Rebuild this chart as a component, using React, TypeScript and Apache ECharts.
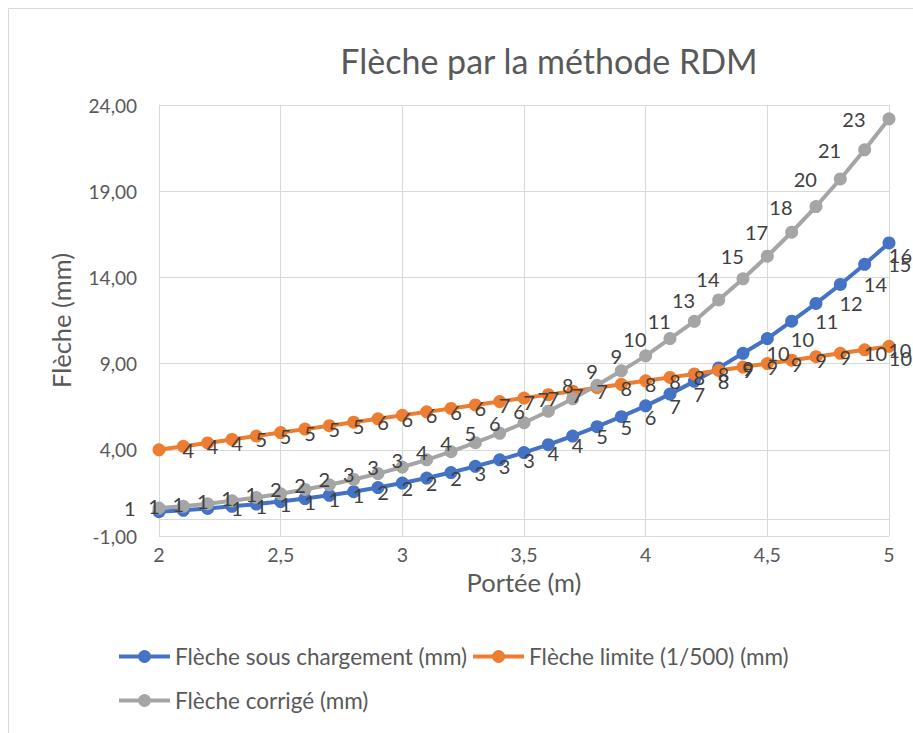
import React, { useEffect, useRef } from "react";
import * as echarts from "echarts";

const W = 913;
const H = 733;

const titleText = "Flèche par la méthode RDM";
const xAxisName = "Portée (m)";
const yAxisName = "Flèche (mm)";

const portee = [2.0, 2.1, 2.2, 2.3, 2.4, 2.5, 2.6, 2.7, 2.8, 2.9, 3.0, 3.1, 3.2, 3.3, 3.4, 3.5, 3.6, 3.7, 3.8, 3.9, 4.0, 4.1, 4.2, 4.3, 4.4, 4.5, 4.6, 4.7, 4.8, 4.9, 5.0];

const flecheCharge = [0.41, 0.49, 0.6, 0.72, 0.85, 1.0, 1.17, 1.36, 1.57, 1.81, 2.07, 2.36, 2.68, 3.04, 3.42, 3.84, 4.3, 4.8, 5.34, 5.92, 6.55, 7.23, 7.97, 8.75, 9.6, 10.45, 11.46, 12.49, 13.59, 14.76, 16.0];

const flecheLimite = [4.0, 4.2, 4.4, 4.6, 4.8, 5.0, 5.2, 5.4, 5.6, 5.8, 6.0, 6.2, 6.4, 6.6, 6.8, 7.0, 7.2, 7.4, 7.6, 7.8, 8.0, 8.2, 8.4, 8.6, 8.8, 9.0, 9.2, 9.4, 9.6, 9.8, 10.0];

const flecheCorrigee = [0.62, 0.72, 0.87, 1.04, 1.23, 1.45, 1.7, 1.97, 2.28, 2.62, 3.0, 3.42, 3.89, 4.41, 4.96, 5.57, 6.24, 6.96, 7.74, 8.58, 9.45, 10.45, 11.45, 12.69, 13.92, 15.23, 16.62, 18.11, 19.71, 21.4, 23.2];

const seriesNames = [
  "Flèche sous chargement (mm)",
  "Flèche limite (1/500) (mm)",
  "Flèche corrigé (mm)",
];
const seriesColors = ["#4472C4", "#ED7D31", "#A5A5A5"];

const FONT = "Lato";
const TXT = "#595959";
const LBL = "#404040";
const GRID = "#D9D9D9";

const labelFmt = (p: any) => {
  const r = Math.round(p.value[1]);
  return r === 0 ? "" : String(r);
};

const keepInside = (params: any) => {
  const r = params.labelRect;
  if (r.x + r.width > W - 1) {
    return { x: W - 1 - r.width };
  }
  return {};
};

function makeSeries(idx: number, values: number[], pos: string) {
  return {
    name: seriesNames[idx],
    type: "line",
    data: portee.map((x, i) => [x, values[i]]),
    symbol: "circle",
    symbolSize: 13,
    color: seriesColors[idx],
    lineStyle: { width: 4, color: seriesColors[idx] },
    itemStyle: { color: seriesColors[idx] },
    label: {
      show: true,
      position: pos,
      distance: 17,
      offset: pos === "right" ? [0, 2] : [0, 0],
      formatter: labelFmt,
      fontFamily: FONT,
      fontSize: 20,
      color: LBL,
    },
    labelLayout: pos === "right" ? keepInside : undefined,
    emphasis: { disabled: true },
  };
}

export default function App() {
  const ref = useRef<HTMLDivElement>(null);
  useEffect(() => {
    if (!ref.current) return;
    const chart = echarts.init(ref.current, null, { renderer: "svg", width: W, height: H });
    const legendText = { fontFamily: FONT, fontSize: 22.5, color: TXT };
    const legendCommon = {
      left: 112,
      itemWidth: 51,
      itemHeight: 16,
      itemGap: 4,
      selectedMode: false,
      lineStyle: { width: 4 },
      textStyle: legendText,
    };
    const option: any = {
      animation: false,
      backgroundColor: "#ffffff",
      textStyle: { fontFamily: FONT },
      title: {
        text: titleText,
        left: 544,
        textAlign: "center",
        top: 38,
        textStyle: { fontFamily: FONT, fontSize: 34, fontWeight: "normal", color: TXT },
      },
      graphic: [
        {
          type: "rect",
          shape: { x: 8.5, y: 8.5, width: 1000, height: 1000 },
          style: { fill: "none", stroke: GRID, lineWidth: 1 },
          silent: true,
        },
      ],
      grid: { left: 159, right: 24, top: 105, bottom: 197, containLabel: false },
      xAxis: {
        type: "value",
        min: 2,
        max: 5,
        interval: 0.5,
        name: xAxisName,
        nameLocation: "middle",
        nameGap: 33,
        nameTextStyle: { fontFamily: FONT, fontSize: 25.5, color: TXT },
        axisLine: { show: true, lineStyle: { color: GRID, width: 1 } },
        axisTick: { show: false },
        axisLabel: {
          fontFamily: FONT,
          fontSize: 19.5,
          color: TXT,
          margin: 8,
          formatter: (v: number) => String(v).replace(".", ","),
        },
        splitLine: { show: true, lineStyle: { color: GRID, width: 1 } },
      },
      yAxis: {
        type: "value",
        min: -1,
        max: 24,
        interval: 5,
        name: yAxisName,
        nameLocation: "middle",
        nameGap: 85,
        nameTextStyle: { fontFamily: FONT, fontSize: 25.5, color: TXT },
        axisLine: { show: true, lineStyle: { color: GRID, width: 1 } },
        axisTick: { show: false },
        axisLabel: {
          fontFamily: FONT,
          fontSize: 19,
          color: TXT,
          margin: 22,
          formatter: (v: number) => v.toFixed(2).replace(".", ","),
        },
        splitLine: { show: true, lineStyle: { color: GRID, width: 1 } },
      },
      legend: [
        { ...legendCommon, data: [seriesNames[0], seriesNames[1]], top: 640 },
        { ...legendCommon, data: [seriesNames[2]], top: 684 },
      ],
      series: [
        makeSeries(0, flecheCharge, "right"),
        makeSeries(1, flecheLimite, "right"),
        makeSeries(2, flecheCorrigee, "left"),
      ],
    };
    chart.setOption(option);
    return () => chart.dispose();
  }, []);
  return (
    <div
      ref={ref}
      style={{ position: "fixed", left: 0, top: 0, width: W, height: H, background: "#fff" }}
    />
  );
}
